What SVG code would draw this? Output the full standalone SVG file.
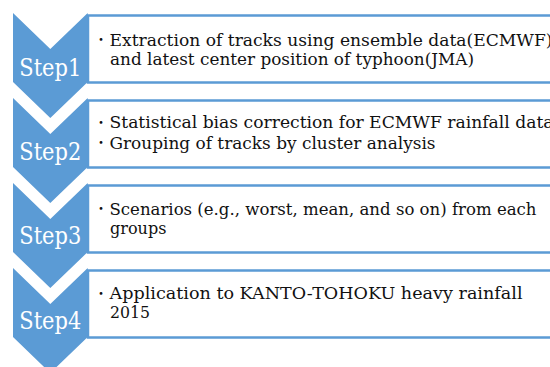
<svg xmlns="http://www.w3.org/2000/svg" width="550" height="367" viewBox="0 0 550 367">
  <style>
    .box { fill: #ffffff; stroke: #5b9bd5; stroke-width: 2.5; }
    .chev { fill: #5b9bd5; }
    .step { font-family: "DejaVu Serif", serif; }
    .label { fill: #ffffff; font-size: 24px; text-anchor: middle; }
    .txt { fill: #111111; font-size: 17px; }
    .dot { font-size: 13px; font-family: "Noto Sans CJK JP", sans-serif; }
  </style>
  <defs>
    <!-- one chevron: notched top, pointed bottom -->
    <polygon id="chevron" points="13,0 50.3,36 87.7,0 87.7,69 50.3,105 13,69"/>
  </defs>

  <g id="step1" class="step">
    <rect class="box" x="88" y="15.5" width="480" height="67"/>
    <use href="#chevron" class="chev" y="13"/>
    <text class="label" x="50.3" y="76" textLength="62" lengthAdjust="spacingAndGlyphs">Step1</text>
    <text class="txt" x="94.5" y="45.5"><tspan class="dot" dy="-1.5">・</tspan><tspan x="109.5" dy="1.5" textLength="443" lengthAdjust="spacingAndGlyphs">Extraction of tracks using ensemble data(ECMWF)</tspan></text>
    <text class="txt" x="110" y="65" textLength="364" lengthAdjust="spacingAndGlyphs">and latest center position of typhoon(JMA)</text>
  </g>

  <g id="step2" class="step">
    <rect class="box" x="88" y="100.5" width="480" height="67"/>
    <use href="#chevron" class="chev" y="98"/>
    <text class="label" x="50.3" y="160" textLength="62" lengthAdjust="spacingAndGlyphs">Step2</text>
    <text class="txt" x="94.5" y="128"><tspan class="dot" dy="-1.5">・</tspan><tspan x="109.5" dy="1.5" textLength="444" lengthAdjust="spacingAndGlyphs">Statistical bias correction for ECMWF rainfall data</tspan></text>
    <text class="txt" x="94.5" y="148.5"><tspan class="dot" dy="-1.5">・</tspan><tspan x="109.5" dy="1.5" textLength="326" lengthAdjust="spacingAndGlyphs">Grouping of tracks by cluster analysis</tspan></text>
  </g>

  <g id="step3" class="step">
    <rect class="box" x="88" y="185.5" width="480" height="67"/>
    <use href="#chevron" class="chev" y="183"/>
    <text class="label" x="50.3" y="244" textLength="62" lengthAdjust="spacingAndGlyphs">Step3</text>
    <text class="txt" x="94.5" y="214.5"><tspan class="dot" dy="-1.5">・</tspan><tspan x="109.5" dy="1.5" textLength="427" lengthAdjust="spacingAndGlyphs">Scenarios (e.g., worst, mean, and so on) from each</tspan></text>
    <text class="txt" x="110" y="234" textLength="56.5" lengthAdjust="spacingAndGlyphs">groups</text>
  </g>

  <g id="step4" class="step">
    <rect class="box" x="88" y="270.5" width="480" height="67"/>
    <use href="#chevron" class="chev" y="268"/>
    <text class="label" x="50.3" y="329" textLength="62" lengthAdjust="spacingAndGlyphs">Step4</text>
    <text class="txt" x="94.5" y="299"><tspan class="dot" dy="-1.5">・</tspan><tspan x="109.5" dy="1.5" textLength="413" lengthAdjust="spacingAndGlyphs">Application to KANTO-TOHOKU heavy rainfall</tspan></text>
    <text class="txt" x="110" y="317.5" textLength="40" lengthAdjust="spacingAndGlyphs">2015</text>
  </g>
</svg>
